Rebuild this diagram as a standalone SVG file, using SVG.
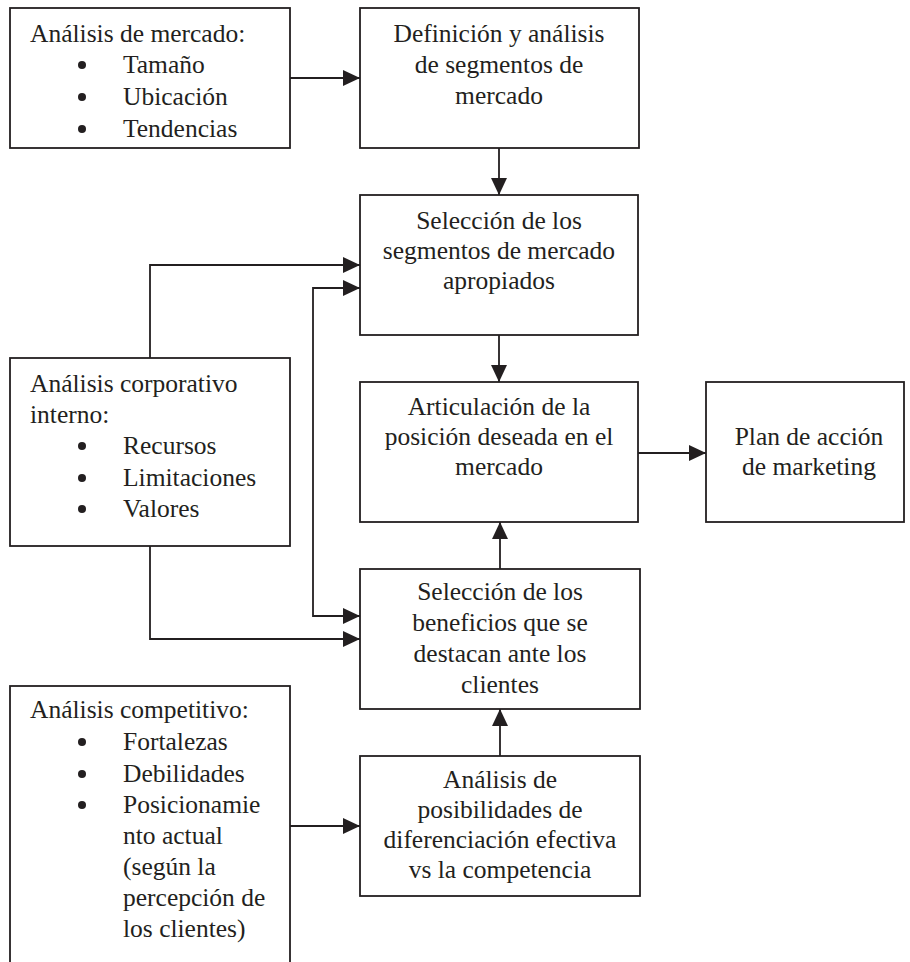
<svg xmlns="http://www.w3.org/2000/svg" width="910" height="962" viewBox="0 0 910 962">
<style>
.box{fill:#fff;stroke:#231f20;stroke-width:1.8}
.t{font-family:"Liberation Serif","Times New Roman",serif;font-size:25.5px;fill:#231f20}
.c{text-anchor:middle}
.b{fill:#231f20}
.ln{fill:none;stroke:#231f20;stroke-width:1.8}
</style>
<defs>
<marker id="ah" markerUnits="userSpaceOnUse" markerWidth="17" markerHeight="16" refX="17" refY="8" orient="auto">
<path d="M0,0 L17,8 L0,16 z" fill="#231f20"/>
</marker>
</defs>
<rect width="910" height="962" fill="#fff"/>
<g id="connectors">
<path class="ln" d="M290,78 H360" marker-end="url(#ah)"/>
<path class="ln" d="M499,148 V195" marker-end="url(#ah)"/>
<path class="ln" d="M150,358 V265 H360" marker-end="url(#ah)"/>
<path class="ln" d="M313,450 V288 H360" marker-end="url(#ah)"/>
<path class="ln" d="M313,450 V616 H360" marker-end="url(#ah)"/>
<path class="ln" d="M150,546 V639 H360" marker-end="url(#ah)"/>
<path class="ln" d="M499,335 V382" marker-end="url(#ah)"/>
<path class="ln" d="M638,453 H706" marker-end="url(#ah)"/>
<path class="ln" d="M500,569 V522" marker-end="url(#ah)"/>
<path class="ln" d="M500,756 V709" marker-end="url(#ah)"/>
<path class="ln" d="M290,826 H360" marker-end="url(#ah)"/>
</g>
<g id="mercado">
<rect class="box" x="10" y="8" width="280" height="140"/>
<text class="t" x="30" y="42">Análisis de mercado:</text>
<circle class="b" cx="82" cy="65" r="4"/>
<circle class="b" cx="82" cy="97" r="4"/>
<circle class="b" cx="82" cy="129" r="4"/>
<text class="t" x="123" y="73">Tamaño</text>
<text class="t" x="123" y="105">Ubicación</text>
<text class="t" x="123" y="137">Tendencias</text>
</g>
<g id="definicion">
<rect class="box" x="360" y="8" width="279" height="140"/>
<text class="t c" x="499" y="42">Definición y análisis</text>
<text class="t c" x="499" y="73">de segmentos de</text>
<text class="t c" x="499" y="104">mercado</text>
</g>
<g id="seleccion-segmentos">
<rect class="box" x="360" y="195" width="278" height="140"/>
<text class="t c" x="499" y="229">Selección de los</text>
<text class="t c" x="499" y="259">segmentos de mercado</text>
<text class="t c" x="499" y="289">apropiados</text>
</g>
<g id="corporativo">
<rect class="box" x="10" y="358" width="280" height="188"/>
<text class="t" x="30" y="392">Análisis corporativo</text>
<text class="t" x="30" y="423">interno:</text>
<circle class="b" cx="82" cy="446" r="4"/>
<circle class="b" cx="82" cy="478" r="4"/>
<circle class="b" cx="82" cy="509" r="4"/>
<text class="t" x="123" y="454">Recursos</text>
<text class="t" x="123" y="486">Limitaciones</text>
<text class="t" x="123" y="517">Valores</text>
</g>
<g id="articulacion">
<rect class="box" x="360" y="382" width="278" height="140"/>
<text class="t c" x="499" y="415">Articulación de la</text>
<text class="t c" x="499" y="445">posición deseada en el</text>
<text class="t c" x="499" y="475">mercado</text>
</g>
<g id="plan">
<rect class="box" x="706" y="382" width="198" height="140"/>
<text class="t c" x="809" y="445">Plan de acción</text>
<text class="t c" x="809" y="475">de marketing</text>
</g>
<g id="seleccion-beneficios">
<rect class="box" x="360" y="569" width="280" height="140"/>
<text class="t c" x="500" y="600">Selección de los</text>
<text class="t c" x="500" y="631">beneficios que se</text>
<text class="t c" x="500" y="662">destacan ante los</text>
<text class="t c" x="500" y="693">clientes</text>
</g>
<g id="competitivo">
<rect class="box" x="10" y="686" width="280" height="290"/>
<text class="t" x="30" y="718">Análisis competitivo:</text>
<circle class="b" cx="82" cy="742" r="4"/>
<circle class="b" cx="82" cy="774" r="4"/>
<circle class="b" cx="82" cy="805" r="4"/>
<text class="t" x="123" y="750">Fortalezas</text>
<text class="t" x="123" y="782">Debilidades</text>
<text class="t" x="123" y="813">Posicionamie</text>
<text class="t" x="123" y="844">nto actual</text>
<text class="t" x="123" y="875">(según la</text>
<text class="t" x="123" y="906">percepción de</text>
<text class="t" x="123" y="937">los clientes)</text>
</g>
<g id="diferenciacion">
<rect class="box" x="360" y="756" width="280" height="140"/>
<text class="t c" x="500" y="788">Análisis de</text>
<text class="t c" x="500" y="818">posibilidades de</text>
<text class="t c" x="500" y="848">diferenciación efectiva</text>
<text class="t c" x="500" y="878">vs la competencia</text>
</g>
</svg>
